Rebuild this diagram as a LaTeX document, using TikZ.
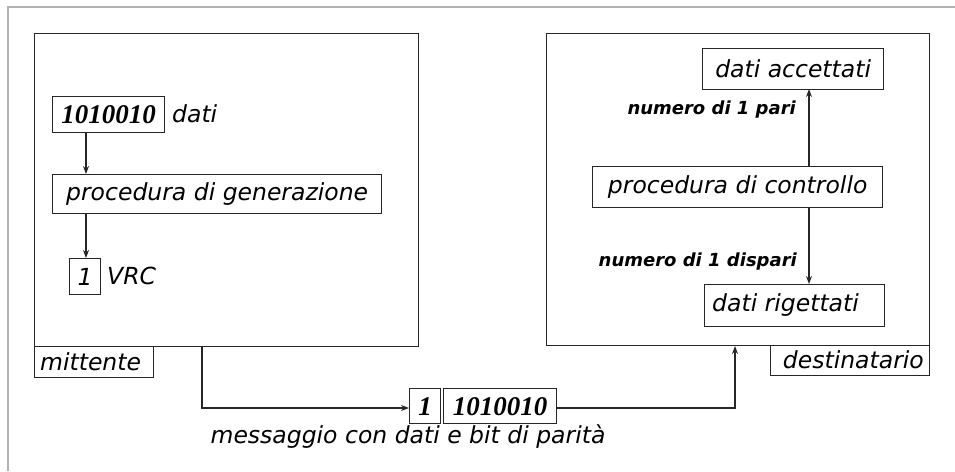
\documentclass[tikz,border=0pt]{standalone}
\usepackage{fontspec}
\setmainfont{DejaVu Sans}
\newfontfamily\numfont{Liberation Serif}
\usetikzlibrary{arrows.meta}
\tikzset{
  box/.style={draw=black!85, line width=1.3pt, inner sep=0pt, anchor=north west},
  txt/.style={font=\fontsize{23.5}{24}\selectfont\itshape, inner sep=0pt},
  lbl/.style={font=\fontsize{18}{18}\selectfont\bfseries\itshape, inner sep=0pt},
  num/.style={font=\fontsize{27}{27}\selectfont\numfont\bfseries\itshape, inner sep=0pt},
  conn/.style={draw=black!85, line width=1.3pt, -{Stealth[length=8pt,width=6pt]}},
}
\begin{document}
\begin{tikzpicture}[x=1pt,y=-1pt]
\useasboundingbox (0,0) rectangle (955,471);
\draw[black!30, line width=1.5pt] (8,471) -- (8,7) -- (955,7);
% left outer box
\node[box, minimum width=384pt, minimum height=313pt] (mitt) at (34,33) {};
\node[box, minimum width=119pt, minimum height=31pt] (mittl) at (34,346) {};
\node[txt, anchor=west] at (40,361.5) {mittente};
% data box
\node[box, minimum width=112pt, minimum height=36pt] (dati) at (52,96) {};
\node[num] at (dati.center) {1010010};
\node[txt, anchor=west] (datit) at (172,114) {dati};
\node[box, minimum width=329pt, minimum height=39pt] (gen) at (52,174) {};
\node[txt] at (gen.center) {procedura di generazione};
\node[box, minimum width=31pt, minimum height=36pt] (vrc) at (69,258) {};
\node[txt] at (vrc.center) {1};
\node[txt, anchor=west] at (107,276) {VRC};
\coordinate (d1) at (86,132);
\coordinate (g1) at (86,174);
\coordinate (g2) at (86,213);
\coordinate (v1) at (86,258);
\draw[conn] (d1) -- (g1);
\draw[conn] (g2) -- (v1);
% right outer box
\node[box, minimum width=383pt, minimum height=312pt] (dest) at (546,33) {};
\node[box, minimum width=159pt, minimum height=30pt] (destl) at (770,345) {};
\node[txt, anchor=east] at (924,360) {destinatario};
\node[box, minimum width=181pt, minimum height=41pt] (acc) at (702,48) {};
\node[txt] at (acc.center) {dati accettati};
\node[box, minimum width=290pt, minimum height=41pt] (ctrl) at (592,166) {};
\node[txt] at (ctrl.center) {procedura di controllo};
\node[box, minimum width=180pt, minimum height=42pt] (rig) at (704,284) {};
\node[txt, anchor=west] at (712,305) {dati rigettati};
\coordinate (c1) at (809,166);
\coordinate (a1) at (809,89);
\coordinate (c2) at (809,207);
\coordinate (r1) at (809,284);
\draw[conn] (c1) -- (a1);
\draw[conn] (c2) -- (r1);
\node[lbl, anchor=east] at (796,110) {numero di 1 pari};
\node[lbl, anchor=east] at (797,262) {numero di 1 dispari};
% message
\node[box, minimum width=31pt, minimum height=35pt] (m1) at (409,388) {};
\node[num] at (m1.center) {1};
\node[box, minimum width=113pt, minimum height=35pt] (m2) at (443,388) {};
\node[num] at (m2.center) {1010010};
\coordinate (s0) at (202,346);
\coordinate (s1) at (202,408);
\coordinate (m1w) at (409,408);
\coordinate (m2e) at (556,408);
\coordinate (t1) at (735,408);
\coordinate (t2) at (735,346);
\draw[conn] (s0) -- (s1) -- (m1w);
\draw[conn] (m2e) -- (t1) -- (t2);
\node[txt] at (408,437) {messaggio con dati e bit di parità};
\end{tikzpicture}
\end{document}
